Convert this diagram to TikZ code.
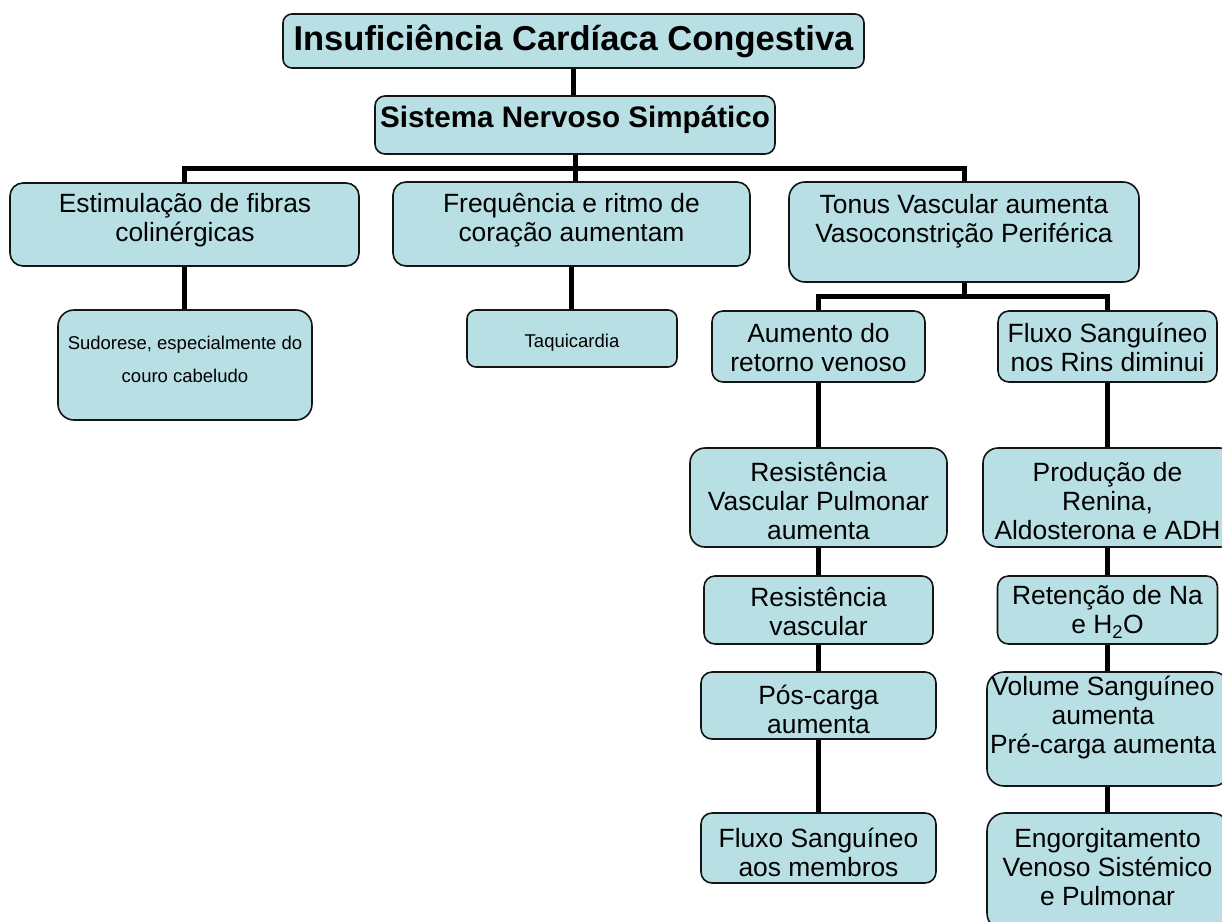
\documentclass[tikz,border=0pt]{standalone}
\usepackage{fontspec}
\setmainfont{Liberation Sans}
\definecolor{boxfill}{RGB}{184,223,228}
\definecolor{boxline}{RGB}{20,20,20}
\tikzset{
  box/.style={draw=boxline, fill=boxfill, line width=1.6pt, rectangle, inner sep=0pt, rounded corners=#1},
  txt/.style={align=center, inner sep=0pt, font=\fontsize{26.4}{29}\selectfont},
  small/.style={align=center, inner sep=0pt, font=\fontsize{18.5}{33}\selectfont},
  conn/.style={line width=5pt, black, line join=miter}
}
\begin{document}
\begin{tikzpicture}[x=1pt,y=-1pt]
\fill[white] (0,0) rectangle (1222,921);
\useasboundingbox (0,0) rectangle (1222,921);
\coordinate (j1) at (575,168);
\coordinate (j2) at (964,296);
% boxes
\node[box=9pt, minimum width=581pt, minimum height=54pt] (title) at (573.5,41) {};
\node[box=10pt, minimum width=400pt, minimum height=58pt] (sns) at (575,125) {};
\node[box=13pt, minimum width=349pt, minimum height=83pt] (b1) at (184.5,224.5) {};
\node[box=13pt, minimum width=357pt, minimum height=84pt] (b2) at (571.5,224) {};
\node[box=16pt, minimum width=350pt, minimum height=100pt] (b3) at (964,232) {};
\node[box=16pt, minimum width=254pt, minimum height=110pt] (sud) at (185,365) {};
\node[box=9pt, minimum width=210pt, minimum height=57pt] (taq) at (572,338.5) {};
\node[box=11pt, minimum width=213pt, minimum height=71pt] (aum) at (818.5,346.5) {};
\node[box=11pt, minimum width=219pt, minimum height=71pt] (flr) at (1107.5,346.5) {};
\node[box=15pt, minimum width=257pt, minimum height=99pt] (rvp) at (818.5,497.5) {};
\node[box=11pt, minimum width=229pt, minimum height=68pt] (rv) at (818.5,610) {};
\node[box=11pt, minimum width=235pt, minimum height=67pt] (pos) at (818.5,705.5) {};
\node[box=11pt, minimum width=235pt, minimum height=70pt] (flm) at (818.5,848) {};
\node[box=15pt, minimum width=252pt, minimum height=99pt] (prod) at (1109,497.5) {};
\node[box=11pt, minimum width=220pt, minimum height=68pt] (ret) at (1107.5,610) {};
\node[box=17pt, minimum width=243pt, minimum height=114pt] (vol) at (1108.5,729) {};
\node[box=18pt, minimum width=243pt, minimum height=118pt] (eng) at (1108.5,872) {};
% connectors
\draw[conn] (title.south) -- (title.south |- sns.north);
\draw[conn] (sns.south) -- (sns.south |- b2.north);
\draw[conn] (b1.north) -- (b1.north |- j1) -- (b3.north |- j1) -- (b3.north);
\draw[conn] (b1.south) -- (b1.south |- sud.north);
\draw[conn] (b2.south) -- (b2.south |- taq.north);
\draw[conn] (b3.south) -- (j2);
\draw[conn] (aum.north) -- (aum.north |- j2) -- (flr.north |- j2) -- (flr.north);
\draw[conn] (aum.south) -- (rvp.north);
\draw[conn] (rvp.south) -- (rv.north);
\draw[conn] (rv.south) -- (pos.north);
\draw[conn] (pos.south) -- (flm.north);
\draw[conn] (flr.south) -- (flr.south |- prod.north);
\draw[conn] (ret.north |- prod.south) -- (ret.north);
\draw[conn] (ret.south) -- (ret.south |- vol.north);
\draw[conn] (ret.south |- vol.south) -- (ret.south |- eng.north);
% texts
\node[anchor=base, inner sep=0pt, font=\fontsize{34.5}{40}\selectfont\bfseries] (titlet) at (573.5,50) {Insuficiência Cardíaca Congestiva};
\node[anchor=base, inner sep=0pt, font=\fontsize{29.6}{34}\selectfont\bfseries] (snst) at (575,127) {Sistema Nervoso Simpático};
\node[txt] (b1t) at (185,220) {Estimulação de fibras\\colinérgicas};
\node[txt] (b2t) at (571.5,220) {Frequência e ritmo de\\coração aumentam};
\node[txt] (b3t) at (964,221.5) {Tonus Vascular aumenta\\Vasoconstrição Periférica};
\node[small] (sudt) at (185,359) {Sudorese, especialmente do\\couro cabeludo};
\node[anchor=base, inner sep=0pt, font=\fontsize{18.5}{22}\selectfont] (taqt) at (572,347) {Taquicardia};
\node[txt] (aumt) at (818.5,347.5) {Aumento do\\retorno venoso};
\node[txt] (flrt) at (1107.5,347.5) {Fluxo Sanguíneo\\nos Rins diminui};
\node[txt] (rvpt) at (818.5,501.5) {Resistência\\Vascular Pulmonar\\aumenta};
\node[txt] (rvt) at (818.5,612) {Resistência\\vascular};
\node[txt] (post) at (818.5,709) {Pós-carga\\aumenta};
\node[txt] (flmt) at (818.5,852) {Fluxo Sanguíneo\\aos membros};
\node[txt] (prodt) at (1107.5,501.5) {Produção de\\Renina,\\Aldosterona e ADH};
\node[txt] (rett) at (1107.5,612) {Retenção de Na\\e H\textsubscript{2}O};
\node[txt] (volt) at (1103,717.5) {Volume Sanguíneo\\aumenta\\Pré-carga aumenta};
\node[txt] (engt) at (1107.5,867) {Engorgitamento\\Venoso Sistémico\\e Pulmonar};
\end{tikzpicture}
\end{document}
